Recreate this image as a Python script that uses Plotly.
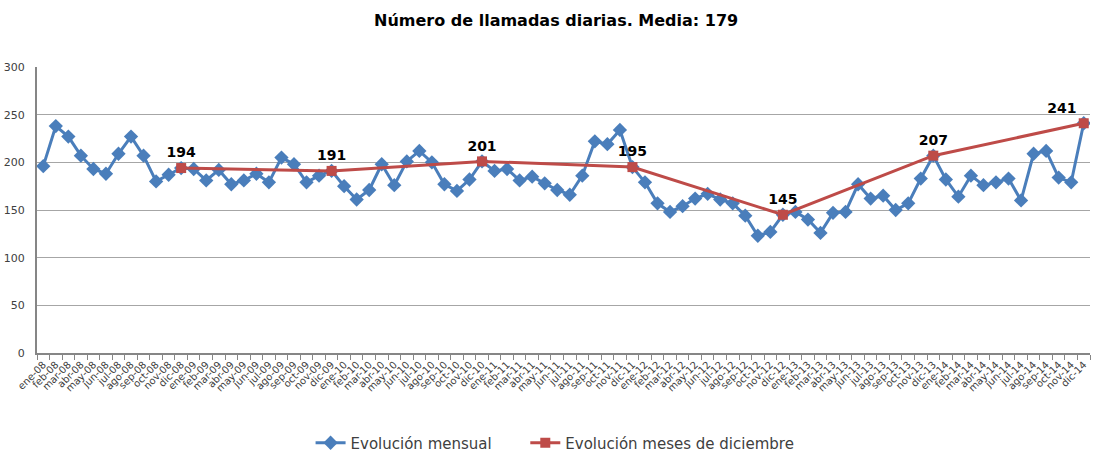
import plotly.graph_objects as go

meses = ["ene", "feb", "mar", "abr", "may", "jun", "jul", "ago", "sep", "oct", "nov", "dic"]
anios = ["08", "09", "10", "11", "12", "13", "14"]
categorias = [f"{m}-{a}" for a in anios for m in meses]

mensual = [
    196, 238, 227, 207, 193, 188, 209, 227, 207, 180, 187, 194,
    193, 181, 192, 177, 181, 188, 179, 205, 198, 179, 186, 191,
    175, 161, 171, 198, 176, 201, 212, 200, 177, 170, 182, 201,
    191, 193, 181, 185, 178, 171, 166, 186, 222, 219, 234, 195,
    179, 157, 148, 154, 162, 167, 161, 157, 144, 123, 127, 145,
    148, 140, 126, 147, 148, 177, 162, 165, 150, 157, 183, 207,
    182, 164, 186, 176, 179, 183, 160, 209, 212, 184, 179, 241,
]

dic_categorias = ["dic-08", "dic-09", "dic-10", "dic-11", "dic-12", "dic-13", "dic-14"]
dic_valores = [194, 191, 201, 195, 145, 207, 241]

FONT = "DejaVu Sans"

posiciones = ["top center"] * (len(dic_valores) - 1) + ["top left"]

fig = go.Figure()
fig.add_trace(go.Scatter(
    x=categorias, y=mensual, mode="lines+markers", name="Evolución mensual" + "\u00a0" * 6,
    line=dict(color="#4A7EBB", width=3),
    marker=dict(symbol="diamond", size=11, color="#4A7EBB"),
))
fig.add_trace(go.Scatter(
    x=dic_categorias, y=dic_valores, mode="lines+markers+text", name="Evolución meses de diciembre",
    line=dict(color="#BE4B48", width=3),
    marker=dict(symbol="square", size=10, color="#BE4B48"),
    text=[str(v) for v in dic_valores], textposition=posiciones,
    textfont=dict(family=FONT, size=14, color="#000000", weight="bold"),
    cliponaxis=False,
))

fig.update_layout(
    width=1095, height=455,
    margin=dict(l=37, r=5, t=67, b=102, autoexpand=False),
    paper_bgcolor="white", plot_bgcolor="white",
    title=dict(text="<b>Número de llamadas diarias. Media: 179</b>", x=0.493, xanchor="center",
               xref="paper", y=1 - 20 / 455, yref="container", yanchor="middle",
               font=dict(family=FONT, size=16, color="#000000")),
    showlegend=True,
    legend=dict(orientation="h", x=0.492, xanchor="center", y=1 - 443 / 455, yref="container",
                yanchor="middle", font=dict(family=FONT, size=15, color="#404040")),
    font=dict(family=FONT, color="#404040"),
)
fig.update_xaxes(
    type="category", categoryorder="array", categoryarray=categorias,
    tickangle=-45, tickfont=dict(family=FONT, size=10, color="#404040"),
    showgrid=False, showline=True, linecolor="#868686", linewidth=2,
    ticks="outside", ticklen=5, tickcolor="#868686", tickson="boundaries",
    range=[-0.5, 83.5], automargin=False,
)
fig.update_yaxes(
    range=[0, 300], dtick=50, showgrid=True, gridcolor="#A6A6A6", gridwidth=1,
    showline=True, linecolor="#868686", linewidth=2,
    tickfont=dict(family=FONT, size=11, color="#404040"),
    ticks="", ticklabelstandoff=8, zeroline=False, automargin=False,
)

fig.write_html("out.html", config={"displayModeBar": False},
               post_script="document.body.style.margin='0';document.body.style.overflow='hidden';")
